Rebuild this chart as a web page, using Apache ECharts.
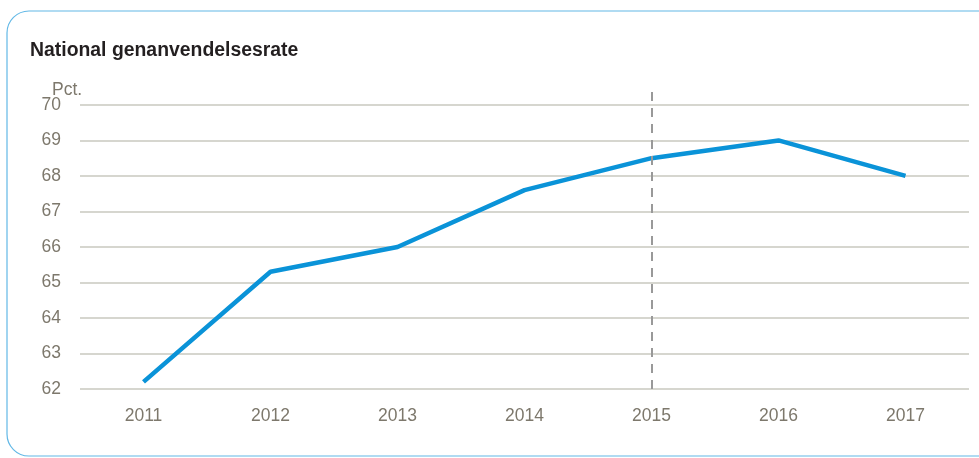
<!DOCTYPE html>
<html><head><meta charset="utf-8">
<script src="https://cdn.jsdelivr.net/npm/echarts@6/dist/echarts.min.js"></script>
<style>html,body{margin:0;padding:0;background:#fff}#c{width:979px;height:458px}</style>
</head><body><div id="c"></div>
<script>
const categories = ['2011','2012','2013','2014','2015','2016','2017'];
const rateValues = [62.2, 65.3, 66.0, 67.6, 68.5, 69.0, 68.0];
const markerYear = '2015';
const FONT = '"Liberation Sans", Arial, sans-serif';
const chart = echarts.init(document.getElementById('c'));
chart.setOption({
  animation: false,
  title: {
    text: 'National genanvendelsesrate',
    left: 25, top: 36,
    textStyle: { fontFamily: FONT, fontSize: 19.4, fontWeight: 'bold', color: '#231f20' }
  },
  graphic: [
    { type: 'rect', shape: { x: 7, y: 11, width: 1000, height: 445, r: 22 },
      style: { fill: 'none', stroke: '#62b8e6', lineWidth: 1.2 }, z: -1 },
    { type: 'text', left: 52, top: 81,
      style: { text: 'Pct.', fontFamily: FONT, fontSize: 17.5, fill: '#7d786c' } }
  ],
  grid: { left: 80, right: 10, top: 90, bottom: 69, containLabel: false },
  xAxis: {
    type: 'category', data: categories, boundaryGap: true,
    axisLine: { show: false }, axisTick: { show: false },
    axisLabel: { fontFamily: FONT, fontSize: 17.5, color: '#7d786c', margin: 18 }
  },
  yAxis: {
    type: 'value', min: 62, max: 70.42, interval: 1,
    axisLine: { show: false }, axisTick: { show: false },
    axisLabel: { fontFamily: FONT, fontSize: 17.5, color: '#7d786c', margin: 19, showMaxLabel: false,
      formatter: v => Number.isInteger(v) ? String(v) : '' },
    splitLine: { showMaxLine: false, lineStyle: { color: '#c9c8bf', width: 1.5 } }
  },
  series: [{
    type: 'line', data: rateValues, symbol: 'none',
    lineStyle: { color: '#0a93d8', width: 4.5 },
    markLine: {
      silent: true, symbol: 'none', label: { show: false },
      lineStyle: { color: '#999999', type: [9, 7], width: 2 },
      data: [{ xAxis: markerYear }]
    }
  }]
});
</script></body></html>
